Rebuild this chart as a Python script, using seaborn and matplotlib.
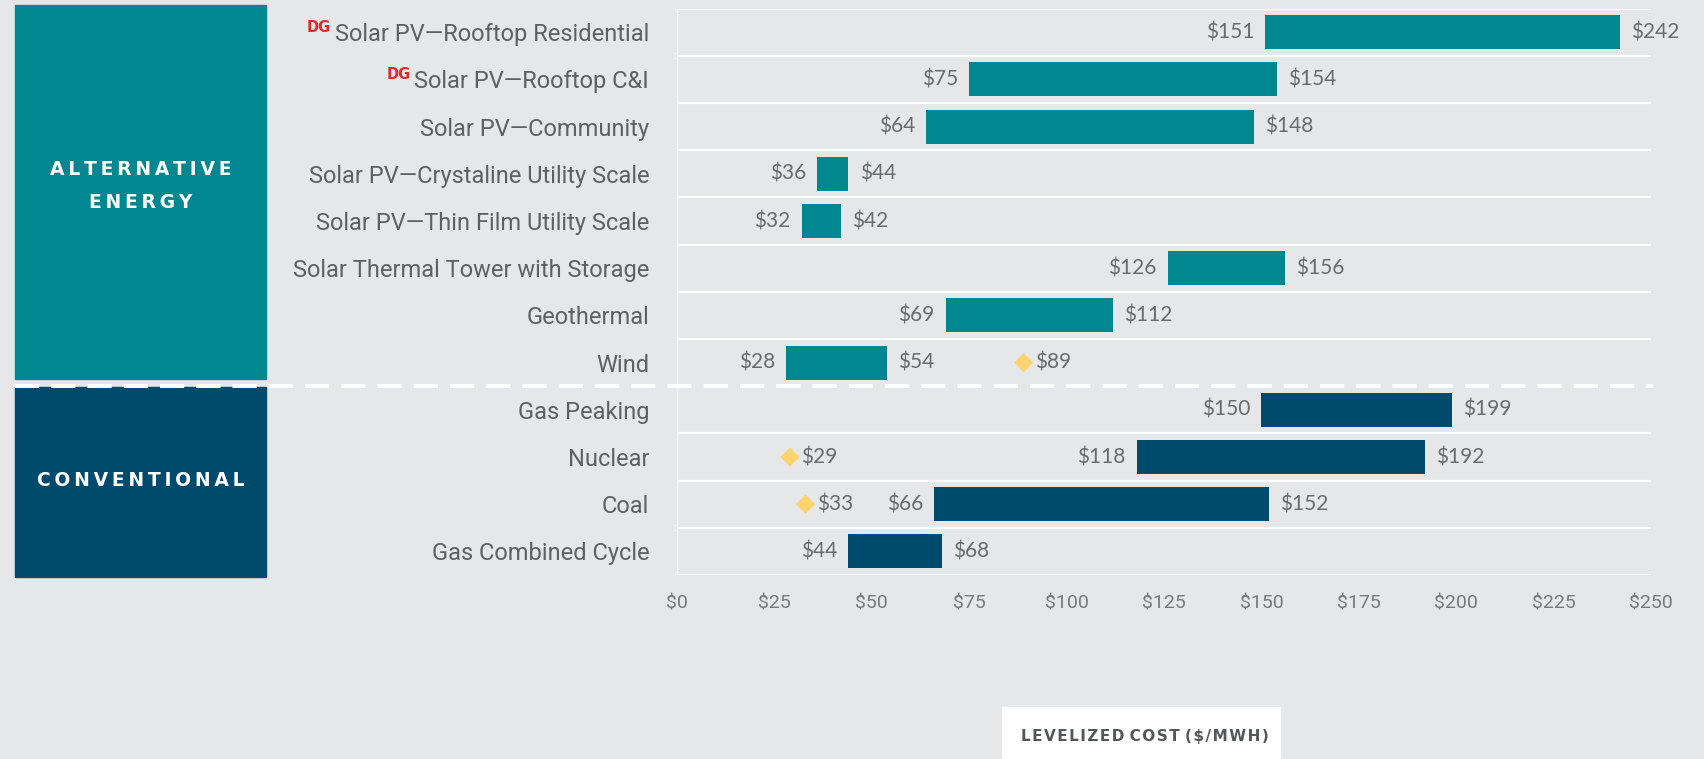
import matplotlib
matplotlib.use("Agg")
import matplotlib.pyplot as plt
import matplotlib.transforms as mtransforms
from matplotlib.patches import Rectangle
from matplotlib.lines import Line2D
import seaborn as sns
import pandas as pd

# ---------------- data ----------------
categories = [
    "Solar PV\u2014Rooftop Residential",
    "Solar PV\u2014Rooftop C&I",
    "Solar PV\u2014Community",
    "Solar PV\u2014Crystaline Utility Scale",
    "Solar PV\u2014Thin Film Utility Scale",
    "Solar Thermal Tower with Storage",
    "Geothermal",
    "Wind",
    "Gas Peaking",
    "Nuclear",
    "Coal",
    "Gas Combined Cycle",
]
groups = ["Alternative"] * 8 + ["Conventional"] * 4
low_cost = [151, 75, 64, 36, 32, 126, 69, 28, 150, 118, 66, 44]
high_cost = [242, 154, 148, 44, 42, 156, 112, 54, 199, 192, 152, 68]
dg_flag = [True, True, False, False, False, False, False, False, False, False, False, False]
marker_values = [None, None, None, None, None, None, None, 89, None, 29, 33, None]
x_ticks = [0, 25, 50, 75, 100, 125, 150, 175, 200, 225, 250]
x_tick_labels = ["$0", "$25", "$50", "$75", "$100", "$125", "$150", "$175", "$200", "$225", "$250"]
group_titles = {"Alternative": "ALTERNATIVE\nENERGY", "Conventional": "CONVENTIONAL"}
axis_title = "LEVELIZED COST ($/MWH)"

# ---------------- style ----------------
BG = "#E6E7E9"
TEAL = "#00878F"
NAVY = "#004A6E"
DIAMOND = "#FDD36E"
TXT = "#5f6062"
VAL = "#6a6b6d"

sns.set_theme(style="white")
plt.rcParams["text.parse_math"] = False
plt.rcParams["font.family"] = ["Roboto", "DejaVu Sans"]

W, H = 1704, 759
fig = plt.figure(figsize=(W / 100, H / 100), dpi=100, facecolor=BG)

def fx(px):
    return px / W

def fy(py):
    return 1 - py / H

ax_left, ax_right, ax_top, ax_bot = 677, 1651, 8.7, 575
ax = fig.add_axes([fx(ax_left), fy(ax_bot), fx(ax_right - ax_left), (ax_bot - ax_top) / H])
ax.set_facecolor(BG)

df = pd.DataFrame({"category": categories, "group": groups, "low": low_cost,
                   "high": high_cost, "marker": marker_values})
df["pos"] = range(len(df))
colors = [TEAL if g == "Alternative" else NAVY for g in df["group"]]

# row separators
for b in [i - 0.5 for i in range(len(df) + 1)]:
    if b == 7.5:
        continue
    ax.axhline(b, color="white", lw=1.6, zorder=1)
ax.axvline(0, color="white", lw=1.6, zorder=1)

# floating bars
ax.barh(df["pos"], df["high"] - df["low"], left=df["low"], height=0.72,
        color=colors, zorder=3, linewidth=0)

# diamonds
mdf = df.dropna(subset=["marker"])
sns.scatterplot(data=mdf, x="marker", y="pos", marker="D", s=95, color=DIAMOND,
                edgecolor="none", ax=ax, zorder=4, legend=False)

ax.set_xlim(0, 250)
ax.set_ylim(len(df) - 0.5, -0.5)
for s in ax.spines.values():
    s.set_visible(False)

# value labels
vfont = dict(family=["Lato", "DejaVu Sans"], fontsize=15, color=VAL, va="center")
for _, r in df.iterrows():
    ax.annotate(f"${r['low']}", (r["low"], r["pos"]), xytext=(-8, 0),
                textcoords="offset points", ha="right", **vfont)
    ax.annotate(f"${r['high']}", (r["high"], r["pos"]), xytext=(8, 0),
                textcoords="offset points", ha="left", **vfont)
    if pd.notna(r["marker"]):
        ax.annotate(f"${int(r['marker'])}", (r["marker"], r["pos"]), xytext=(8, 0),
                    textcoords="offset points", ha="left", **vfont)

# ticks
ax.set_xticks(x_ticks)
ax.set_xticklabels(x_tick_labels, fontsize=14, color="#78797b")
ax.tick_params(axis="x", length=0, pad=14)
ax.set_yticks(df["pos"])
ax.set_yticklabels(categories, fontsize=17, color=TXT)
ax.tick_params(axis="y", length=0, pad=20)
ax.set_xlabel("")
ax.set_ylabel("")

# dashed divider across the whole figure
blend = mtransforms.blended_transform_factory(fig.transFigure, ax.transData)
dash = Line2D([fx(15), fx(1653)], [7.5, 7.5], transform=blend, color="white",
              lw=2.9, linestyle=(0, (6.0, 3.0)), zorder=5, clip_on=False)
fig.add_artist(dash)

# group boxes
def spaced(s, sep="\u200a"):
    return "\n".join(" ".join(sep.join(w) for w in line.split(" ")) for line in s.split("\n"))

fig.patches.append(Rectangle((fx(15), fy(379)), fx(266 - 15), (379 - 5) / H,
                             transform=fig.transFigure, color=TEAL, zorder=0))
fig.patches.append(Rectangle((fx(15), fy(577)), fx(266 - 15), (577 - 387) / H,
                             transform=fig.transFigure, color=NAVY, zorder=0))
fig.text(fx(141), fy(186), spaced(group_titles["Alternative"], "\u2009"), ha="center", va="center",
         color="white", fontsize=13.5, fontweight="bold", family=["DejaVu Sans"],
         linespacing=1.9)
fig.text(fx(141), fy(481), spaced(group_titles["Conventional"], "\u2009"), ha="center", va="center",
         color="white", fontsize=13.5, fontweight="bold", family=["DejaVu Sans"])

# axis title box
fig.patches.append(Rectangle((fx(1002), 0), fx(1280 - 1002), (759 - 707) / H,
                             transform=fig.transFigure, color="white", zorder=0))
fig.text(fx(1145), fy(737), spaced(axis_title), ha="center", va="center", color="#555658",
         fontsize=11, fontweight="bold", family=["DejaVu Sans"])

# DG markers next to labels
fig.canvas.draw()
renderer = fig.canvas.get_renderer()
for lab, flag in zip(ax.get_yticklabels(), dg_flag):
    if flag:
        bb = lab.get_window_extent(renderer)
        fig.text(fx(bb.x0 - 4), (bb.y1 + 3) / H, "DG", ha="right", va="top",
                 color="#E02A2A", fontsize=10.5, fontweight="bold", family=["DejaVu Sans"])

fig.savefig("out.png", dpi=100, facecolor=BG)
